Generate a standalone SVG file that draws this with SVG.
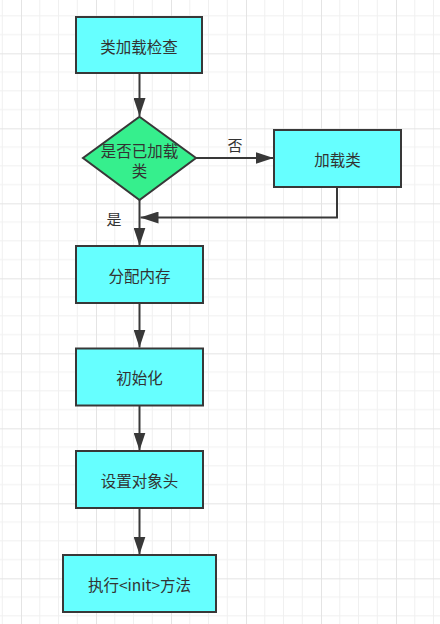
<svg xmlns="http://www.w3.org/2000/svg" width="440" height="624" viewBox="0 0 440 624">
<style>
.box{fill:#66ffff;stroke:#383838;stroke-width:2}
.dia{fill:#36ef8d;stroke:#383838;stroke-width:2}
.t{font-family:"Noto Sans CJK SC","Liberation Sans",sans-serif;font-size:15.5px;fill:#333;text-anchor:middle;dominant-baseline:central}
.lbl{font-family:"Noto Sans CJK SC","Liberation Sans",sans-serif;font-size:15px;fill:#333;text-anchor:middle;dominant-baseline:central}
.edge{fill:none;stroke:#383838;stroke-width:2}
</style>
<defs>
<pattern id="grid" patternUnits="userSpaceOnUse" x="21" y="53.33" width="75" height="75">
<path d="M18.75 0V75M37.5 0V75M56.25 0V75M0 18.75H75M0 37.5H75M0 56.25H75" stroke="#f0f0f0" stroke-width="1" fill="none"/>
<path d="M0.5 0V75M0 0.5H75" stroke="#e4e4e4" stroke-width="1" fill="none"/>
</pattern>
<marker id="arr" markerUnits="userSpaceOnUse" markerWidth="18" markerHeight="12" refX="18" refY="6" orient="auto">
<path d="M0,0 L18,6 L0,12 z" fill="#383838"/>
</marker>
</defs>
<rect width="440" height="624" fill="#ffffff"/>
<rect width="440" height="624" fill="url(#grid)"/>
<g id="connectors">
<path class="edge" d="M139.5 73V116" marker-end="url(#arr)"/>
<path class="edge" d="M196 158H273.5" marker-end="url(#arr)"/>
<path class="edge" d="M337 187V217.5H140.5" marker-end="url(#arr)"/>
<path class="edge" d="M139.5 200V245.5" marker-end="url(#arr)"/>
<path class="edge" d="M139.5 303V347.5" marker-end="url(#arr)"/>
<path class="edge" d="M139.5 406V450.5" marker-end="url(#arr)"/>
<path class="edge" d="M139.5 508V554.5" marker-end="url(#arr)"/>
<text class="lbl" x="235" y="144">否</text>
<text class="lbl" x="114" y="218">是</text>
</g>
<g id="n1"><rect class="box" x="76" y="17" width="126" height="56"/><text class="t" x="139" y="46">类加载检查</text></g>
<g id="n2"><path class="dia" d="M139.5 116.7L196 158L139.5 200L83 158Z"/><text class="t" x="139.5" y="150">是否已加载</text><text class="t" x="139.5" y="170">类</text></g>
<g id="n3"><rect class="box" x="274" y="130" width="127" height="57"/><text class="t" x="337.5" y="158.5">加载类</text></g>
<g id="n4"><rect class="box" x="76" y="246" width="127" height="57"/><text class="t" x="139.5" y="274.5">分配内存</text></g>
<g id="n5"><rect class="box" x="76" y="348.5" width="127" height="57"/><text class="t" x="139.5" y="377">初始化</text></g>
<g id="n6"><rect class="box" x="76" y="451" width="127" height="57"/><text class="t" x="139.5" y="479.5">设置对象头</text></g>
<g id="n7"><rect class="box" x="63" y="555" width="153" height="57"/><text class="t" x="139.5" y="583.5">执行&lt;init&gt;方法</text></g>
</svg>
